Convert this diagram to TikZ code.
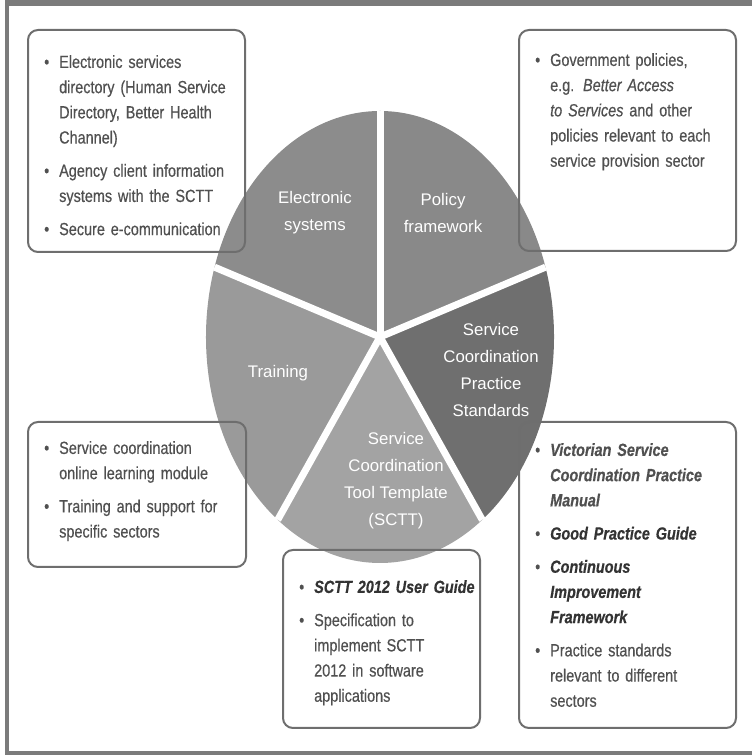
\documentclass[tikz,border=0pt]{standalone}
\usepackage{fontspec}
\setmainfont{Liberation Sans}[FakeStretch=0.82, WordSpace=0.85, FakeBold=0.5]
\newfontfamily\slicefont{Liberation Sans}
\usetikzlibrary{positioning}

\definecolor{framegray}{HTML}{7B7B7B}
\definecolor{boxline}{HTML}{6E6E6E}
\definecolor{notegray}{HTML}{505050}
\definecolor{notedark}{HTML}{333333}
\definecolor{policygray}{HTML}{898989}
\definecolor{elecgray}{HTML}{8C8C8C}
\definecolor{traingray}{HTML}{9A9A9A}
\definecolor{scttgray}{HTML}{A3A3A3}
\definecolor{stdgray}{HTML}{6F6F6F}

\newcommand\bulmark{\hangindent=15pt\hangafter=1\makebox[15pt][l]{\textbullet}}
\newcommand\bul{\par\noindent\bulmark}

\begin{document}
\begin{tikzpicture} [x=1pt, y=1pt,
    slicelabel/.style={text=white, align=center, font=\slicefont\fontsize{16.8}{27}\selectfont},
    infobox/.style={draw=boxline, line width=2pt, rounded corners=10pt},
    notes/.style={anchor=north west, inner sep=0pt, text width=#1, text=notegray,
        font=\fontsize{17.6}{25.2}\selectfont\setlength\parskip{8pt}},
    gap/.style={white, line width=7pt}]

\useasboundingbox (0,0) rectangle (752,755);

\fill[framegray] (5,749) rectangle (752,755);
\fill[framegray] (5,0) rectangle (9,755);
\fill[framegray] (5,0) rectangle (752,4);

\coordinate (c) at (380,418);
\foreach \a/\col in {18/policygray, 90/elecgray, 162/traingray, 234/scttgray, 306/stdgray}
    \fill[\col] (c) -- ++(\a:174 and 226)
        arc[start angle=\a, delta angle=72, x radius=174, y radius=226] -- cycle;
\foreach \a in {18,90,...,306}
    \draw[gap] (c) -- ++(\a:174 and 226);

\node[slicelabel] (elec) at (315,542) {Electronic\\systems};
\node[slicelabel] (policy) at (443,542) {Policy\\framework};
\node[slicelabel] (std) at (491,385) {Service\\Coordination\\Practice\\Standards};
\node[slicelabel] (train) at (278,382) {Training};
\node[slicelabel] (sctt) at (396,274) {Service\\Coordination\\Tool Template\\(SCTT)};

\draw[infobox] (28,725) rectangle (245,503);
\draw[infobox] (519,725) rectangle (736,504);
\draw[infobox] (28,333) rectangle (246,188);
\draw[infobox] (283,205) rectangle (480,27);
\draw[infobox] (519,333) rectangle (736,27);

\node[notes=196pt] (elecnotes) at (44,700) {%
    \bulmark Electronic services\newline directory (Human Service\newline
        Directory, Better Health\newline Channel)
    \bul Agency client information\newline systems with the SCTT
    \bul Secure e-communication\par};

\node[notes=196pt] (policynotes) at (535,702) {%
    \bulmark Government policies,\newline e.g. \textit{Better Access}\newline
        \textit{to Services} and other\newline policies relevant to each\newline
        service provision sector\par};

\node[notes=196pt] (trainnotes) at (44,314) {%
    \bulmark Service coordination\newline online learning module
    \bul Training and support for\newline specific sectors\par};

\node[notes=176pt] (scttnotes) at (299,175) {%
    \bulmark {\color{notedark}\bfseries\itshape SCTT 2012 User Guide}
    \bul Specification to\newline implement SCTT\newline 2012 in software\newline applications\par};

\node[notes=196pt] (stdnotes) at (535,312) {%
    \bulmark {\bfseries\itshape Victorian Service\newline Coordination Practice\newline Manual}
    \bul {\color{notedark}\bfseries\itshape Good Practice Guide}
    \bul {\color{notedark}\bfseries\itshape Continuous\newline Improvement\newline Framework}
    \bul Practice standards\newline relevant to different\newline sectors\par};

\end{tikzpicture}
\end{document}
